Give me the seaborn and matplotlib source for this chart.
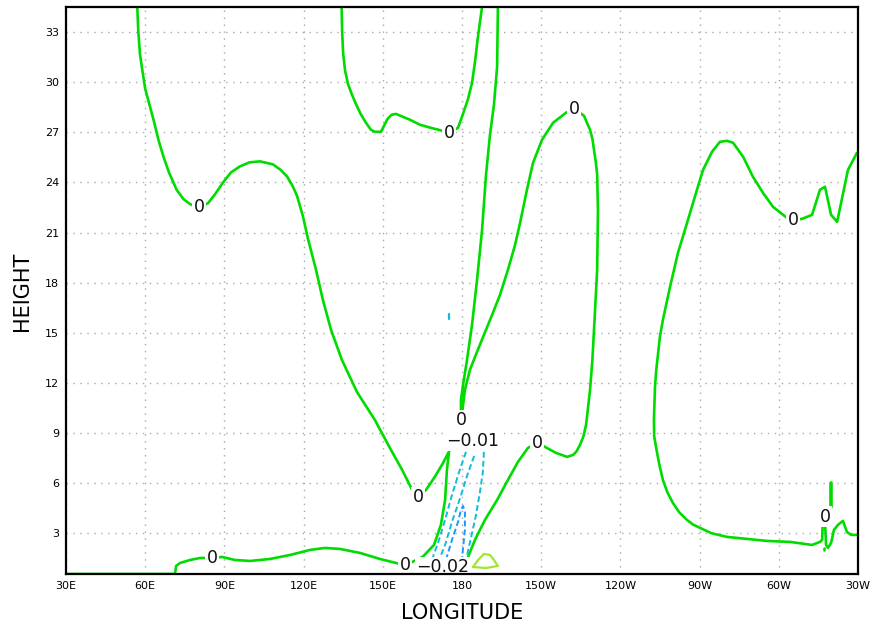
import matplotlib
matplotlib.use("Agg")
import matplotlib.pyplot as plt
import numpy as np
import pandas as pd
import seaborn as sns

# ---- axis ticks ----
lon_ticks = [30, 60, 90, 120, 150, 180, 210, 240, 270, 300, 330]
lon_tick_labels = ["30E", "60E", "90E", "120E", "150E", "180",
                   "150W", "120W", "90W", "60W", "30W"]
hgt_ticks = [3, 6, 9, 12, 15, 18, 21, 24, 27, 30, 33]
lon_range = (30, 330)
hgt_range = (0.56, 34.5)

# ---- zero contour pieces (longitude in degrees east, height) ----
zero_west_lon = [57.0, 57.4, 58.0, 58.7, 60.0, 61.8, 63.4, 65.1, 66.9, 69.0, 71.9,
                 74.5, 77.0, 80.4, 83.8, 86.5, 89.5, 92.5, 95.9, 99.5, 103.5,
                 108.4, 111.3, 113.7, 115.8, 117.5, 119.7, 121.7, 124.7, 127.3, 130.4,
                 134.5, 140.2, 147.0, 152.7, 157.3, 161.1, 163.3, 166.4,
                 169.8, 172.8, 175.1, 174.3, 173.6, 172.0, 169.4, 165.2, 161.4, 158.4,
                 155.0, 148.9, 141.4, 133.8, 128.1, 122.4, 114.9, 107.3, 99.7, 94.0,
                 89.1, 85.3, 80.8, 77.0, 73.2, 71.7, 71.3, 30.0]
zero_west_hgt = [34.5, 33.0, 31.7, 30.94, 29.6, 28.55, 27.6, 26.5, 25.55, 24.6, 23.56,
                 23.0, 22.7, 22.5, 22.76, 23.3, 24.0, 24.6, 24.96, 25.2, 25.26,
                 25.08, 24.75, 24.36, 23.8, 23.2, 22.0, 20.6, 18.77, 16.97, 15.17,
                 13.38, 11.46, 9.78, 8.1, 6.8, 5.6, 5.17, 5.6,
                 6.4, 7.2, 7.9, 6.8, 5.0, 3.5, 2.3, 1.6, 1.3, 1.1,
                 1.22, 1.46, 1.82, 2.06, 2.12, 2.0, 1.7, 1.46, 1.34, 1.4,
                 1.58, 1.52, 1.52, 1.4, 1.22, 1.04, 0.56, 0.56]

zero_top_lon = [134.4, 134.6, 135.0, 135.7, 136.8, 138.2, 139.8, 141.6, 143.5, 145.5,
                147.0, 149.3, 150.5, 151.8, 153.3, 155.0, 156.5, 160.3, 164.1, 168.6,
                172.4, 175.1, 178.5, 180.4, 182.3, 183.8, 185.0, 185.9, 186.8, 187.6]
zero_top_hgt = [34.5, 33.0, 31.7, 30.7, 29.9, 29.3, 28.7, 28.1, 27.6, 27.15,
                27.03, 27.03, 27.4, 27.8, 28.05, 28.1, 28.0, 27.75, 27.45, 27.25,
                27.1, 26.97, 27.27, 28.11, 29.0, 29.96, 31.3, 32.54, 33.6, 34.5]

zero_mid_lon = [193.6, 193.3, 192.1, 190.6, 189.1, 187.6, 185.7, 183.8, 181.9, 180.4,
                179.6, 179.6, 179.7, 180.2, 181.1, 183.0, 185.7, 188.3, 191.4, 194.4,
                197.4, 200.1, 202.0, 204.6, 206.9, 210.3, 214.5, 219.4, 222.4, 226.2,
                228.5, 229.4, 230.0, 230.7, 231.2, 231.5, 231.2, 230.0, 229.4, 228.5,
                227.0, 226.0, 224.7, 223.4, 222.1, 219.8, 215.6, 211.4, 208.4, 205.0,
                201.2, 197.4, 193.3, 188.7, 184.9, 182.3, 181.5, 181.5]
zero_mid_hgt = [34.5, 30.92, 28.65, 26.85, 24.46, 21.16, 18.17, 15.47, 13.38, 11.88,
                10.98, 10.26, 9.78, 10.4, 11.58, 12.78, 13.86, 14.87, 16.07, 17.27,
                18.77, 20.26, 21.58, 23.56, 25.17, 26.55, 27.57, 28.17, 28.41, 27.99,
                27.15, 26.6, 25.95, 25.2, 24.46, 22.36, 18.77, 15.17, 13.4, 11.58,
                9.49, 8.8, 8.29, 7.9, 7.69, 7.57, 7.81, 8.17, 8.41, 8.11,
                7.27, 6.19, 4.99, 3.8, 2.6, 1.58, 1.1, 0.56]

zero_east_lon = [329.6, 326.2, 322.1, 319.8, 317.5, 315.6, 312.6, 308.8, 305.4, 303.1,
                 297.8, 294.0, 290.2, 286.5, 282.7, 280.4, 277.7, 274.7, 271.3, 269.0,
                 265.6, 261.8, 258.8, 256.1, 255.0, 254.3, 253.6, 253.1, 252.7, 252.8,
                 253.9, 254.9, 256.1, 257.8, 259.9, 262.3, 265.2, 267.5, 270.2, 274.5,
                 280.4, 295.5, 304.3, 312.6, 315.6, 316.4, 316.6, 317.5, 317.6, 317.9,
                 318.6, 319.8, 320.9, 322.4, 324.3, 325.8, 327.4, 329.6]
zero_east_hgt = [25.77, 24.75, 21.64, 22.06, 23.74, 23.56, 22.06, 21.82, 21.76, 21.88,
                 22.54, 23.38, 24.34, 25.53, 26.37, 26.49, 26.43, 25.83, 24.75, 23.56,
                 21.76, 19.78, 17.75, 15.77, 14.8, 13.8, 12.8, 11.76, 9.78, 8.8,
                 7.81, 7.0, 6.19, 5.45, 4.81, 4.25, 3.8, 3.52, 3.32, 3.0,
                 2.78, 2.54, 2.48, 2.3, 2.48, 2.6, 3.38, 3.98, 3.38, 2.3,
                 2.12, 2.42, 3.2, 3.5, 3.74, 3.08, 2.9, 2.9]

zero_floor_lon = [181.5, 330.0]
zero_floor_hgt = [0.56, 0.56]

zero_bit1_lon = [178.1, 177.7]
zero_bit1_hgt = [9.31, 8.95]
zero_bit2_lon = [319.8, 319.8]
zero_bit2_hgt = [4.6, 6.0]
zero_bit3_lon = [317.1, 317.1]
zero_bit3_hgt = [1.98, 2.12]

# ---- negative contours ----
neg1_a_lon = [181.5, 178.9, 176.2, 173.6, 170.9, 168.6]
neg1_a_hgt = [7.87, 6.67, 5.29, 3.8, 2.42, 1.4]
neg1_b_lon = [184.6, 181.9, 179.3, 176.2, 173.6, 171.3]
neg1_b_hgt = [7.63, 6.43, 5.11, 3.68, 2.3, 1.4]
neg1_c_lon = [188.3, 187.9, 186.8, 185.3, 183.4, 181.5]
neg1_c_hgt = [7.87, 6.67, 5.47, 4.09, 2.72, 1.4]
neg1_d_lon = [175.1, 175.1]
neg1_d_hgt = [16.13, 15.84]

neg2_lon = [173.9, 176.2, 178.5, 179.6, 180.4, 181.1, 181.1, 180.4, 180.0]
neg2_hgt = [1.4, 2.6, 3.68, 4.4, 4.63, 4.28, 3.2, 2.12, 1.4]

# ---- positive contour ----
pos1_lon = [184.2, 186.1, 188.3, 190.6, 192.1, 193.6, 189.1, 184.2]
pos1_hgt = [0.98, 1.4, 1.76, 1.7, 1.4, 1.04, 0.92, 0.98]

# ---- contour labels ----
label_text = ["0"] * 10 + ["\u22120.01", "\u22120.02"]
label_lon = [80.4, 175.1, 222.4, 305.4, 179.7, 208.4, 163.3, 158.4, 85.3, 317.5,
             184.2, 172.8]
label_hgt = [22.5, 26.97, 28.41, 21.76, 9.78, 8.41, 5.17, 1.10, 1.52, 3.98,
             8.53, 0.98]


def pieces(level, *pairs):
    frames = []
    for i, (lo, hg) in enumerate(pairs):
        frames.append(pd.DataFrame({"lon": lo, "height": hg,
                                    "seg": f"{level}_{i}", "level": level}))
    return pd.concat(frames, ignore_index=True)


zero_df = pieces("0",
                 (zero_west_lon, zero_west_hgt),
                 (zero_top_lon, zero_top_hgt),
                 (zero_mid_lon, zero_mid_hgt),
                 (zero_east_lon, zero_east_hgt),
                 (zero_floor_lon, zero_floor_hgt),
                 (zero_bit1_lon, zero_bit1_hgt),
                 (zero_bit3_lon, zero_bit3_hgt))
zero_blob_df = pieces("0b", (zero_bit2_lon, zero_bit2_hgt))
neg1_df = pieces("-0.01",
                 (neg1_a_lon, neg1_a_hgt),
                 (neg1_b_lon, neg1_b_hgt),
                 (neg1_c_lon, neg1_c_hgt))
neg1_dot_df = pieces("-0.01d", (neg1_d_lon, neg1_d_hgt))
neg2_df = pieces("-0.02", (neg2_lon, neg2_hgt))
pos1_df = pieces("0.01", (pos1_lon, pos1_hgt))

sns.set_style("white")
plt.rcParams["font.family"] = ["DejaVu Sans"]

fig = plt.figure(figsize=(8.74, 6.26), dpi=100)
ax = fig.add_axes([66 / 874, 1 - 574 / 626, 792 / 874, 567 / 626])

c_zero = "#00dc00"
c_neg1 = "#10bcd8"
c_neg2 = "#1e96ff"
c_pos1 = "#a0e632"

common = dict(x="lon", y="height", units="seg", estimator=None, sort=False,
              legend=False, ax=ax)
sns.lineplot(data=zero_df, color=c_zero, linewidth=1.9, zorder=2,
             solid_joinstyle="round", **common)
sns.lineplot(data=zero_blob_df, color=c_zero, linewidth=2.6, zorder=2,
             solid_capstyle="round", **common)
sns.lineplot(data=neg1_df, color=c_neg1, linewidth=1.4,
             linestyle=(0, (3, 1.6)), zorder=2, **common)
sns.lineplot(data=neg1_dot_df, color=c_neg1, linewidth=1.6, zorder=2, **common)
sns.lineplot(data=neg2_df, color=c_neg2, linewidth=1.4,
             linestyle=(0, (3, 1.6)), zorder=2, **common)
sns.lineplot(data=pos1_df, color=c_pos1, linewidth=1.6, zorder=2,
             solid_joinstyle="round", **common)

for txt, lo, hg in zip(label_text, label_lon, label_hgt):
    ax.text(lo, hg, txt, ha="center", va="center", fontsize=12.5, color="#111111",
            zorder=2.3,
            bbox=dict(boxstyle="square,pad=0.08", facecolor="white",
                      edgecolor="none"))

ax.set_xlim(*lon_range)
ax.set_ylim(*hgt_range)
ax.set_xticks(lon_ticks)
ax.set_xticklabels(lon_tick_labels)
ax.set_yticks(hgt_ticks)
ax.set_yticklabels([str(v) for v in hgt_ticks])
ax.tick_params(direction="out", length=3, width=1, labelsize=8, pad=2,
               colors="black")
ax.grid(True, color="#a8a8a8", linestyle=(0, (1, 4)), linewidth=1.0)
ax.set_axisbelow(True)
for side in ax.spines.values():
    side.set_visible(True)
    side.set_color("black")
    side.set_linewidth(1.6)
    side.set_zorder(3)
ax.set_xlabel("")
ax.set_ylabel("")

fig.text(462 / 874, 1 - 613 / 626, "LONGITUDE", ha="center", va="center",
         fontsize=15, color="black")
fig.text(22 / 874, 1 - 291 / 626, "HEIGHT", ha="center", va="center",
         fontsize=15, rotation=90, color="black")

fig.savefig("out.png", dpi=100)
